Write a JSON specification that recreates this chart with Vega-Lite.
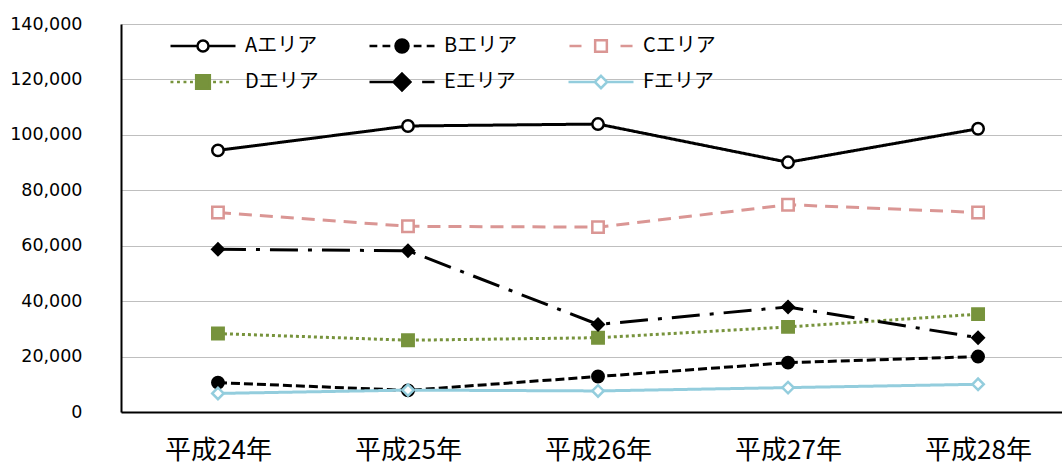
{
  "$schema": "https://vega.github.io/schema/vega-lite/v6.json",
  "autosize": "none",
  "width": 941,
  "height": 388,
  "padding": {"left": 121, "top": 24, "right": 0, "bottom": 52},
  "background": "white",
  "config": {
    "view": {"stroke": null},
    "axis": {"domainColor": "#000000", "domainWidth": 2, "ticks": false, "labelColor": "#000000", "title": null}
  },
  "data": {
    "values": [
      {"year": "平成24年", "area": "Aエリア", "value": 94400},
      {"year": "平成25年", "area": "Aエリア", "value": 103200},
      {"year": "平成26年", "area": "Aエリア", "value": 103900},
      {"year": "平成27年", "area": "Aエリア", "value": 90100},
      {"year": "平成28年", "area": "Aエリア", "value": 102200},
      {"year": "平成24年", "area": "Bエリア", "value": 10600},
      {"year": "平成25年", "area": "Bエリア", "value": 7800},
      {"year": "平成26年", "area": "Bエリア", "value": 12800},
      {"year": "平成27年", "area": "Bエリア", "value": 17800},
      {"year": "平成28年", "area": "Bエリア", "value": 20000},
      {"year": "平成24年", "area": "Cエリア", "value": 72000},
      {"year": "平成25年", "area": "Cエリア", "value": 67000},
      {"year": "平成26年", "area": "Cエリア", "value": 66700},
      {"year": "平成27年", "area": "Cエリア", "value": 74800},
      {"year": "平成28年", "area": "Cエリア", "value": 72000},
      {"year": "平成24年", "area": "Dエリア", "value": 28300},
      {"year": "平成25年", "area": "Dエリア", "value": 25900},
      {"year": "平成26年", "area": "Dエリア", "value": 26800},
      {"year": "平成27年", "area": "Dエリア", "value": 30700},
      {"year": "平成28年", "area": "Dエリア", "value": 35300},
      {"year": "平成24年", "area": "Eエリア", "value": 58700},
      {"year": "平成25年", "area": "Eエリア", "value": 58200},
      {"year": "平成26年", "area": "Eエリア", "value": 31600},
      {"year": "平成27年", "area": "Eエリア", "value": 37900},
      {"year": "平成28年", "area": "Eエリア", "value": 26800},
      {"year": "平成24年", "area": "Fエリア", "value": 6700},
      {"year": "平成25年", "area": "Fエリア", "value": 7900},
      {"year": "平成26年", "area": "Fエリア", "value": 7600},
      {"year": "平成27年", "area": "Fエリア", "value": 8800},
      {"year": "平成28年", "area": "Fエリア", "value": 10000}
    ]
  },
  "encoding": {
    "x": {
      "field": "year", "type": "ordinal",
      "scale": {"type": "point", "padding": 0.476, "align": 0.536},
      "axis": {"labelAngle": 0, "labelFont": "Noto Sans CJK JP", "labelFontSize": 26, "labelPadding": 25, "grid": false}
    },
    "y": {
      "field": "value", "type": "quantitative",
      "scale": {"domain": [0, 140000], "nice": false},
      "axis": {"values": [0, 20000, 40000, 60000, 80000, 100000, 120000, 140000], "format": ",d", "labelFont": "DejaVu Sans", "labelFontSize": 17.5, "labelPadding": 39, "grid": true, "gridColor": "#BFBFBF", "gridWidth": 1}
    }
  },
  "layer": [
    {
      "mark": {"type": "line", "strokeWidth": 3, "strokeCap": "butt", "strokeJoin": "round"},
      "encoding": {
        "stroke": {"field": "area", "type": "nominal", "legend": null,
          "scale": {"domain": ["Aエリア", "Bエリア", "Cエリア", "Dエリア", "Eエリア", "Fエリア"], "range": ["#000000", "#000000", "#DA9694", "#77933C", "#000000", "#93CDDD"]}},
        "strokeDash": {"field": "area", "type": "nominal", "legend": null,
          "scale": {"domain": ["Aエリア", "Bエリア", "Cエリア", "Dエリア", "Eエリア", "Fエリア"], "range": [[1, 0], [9, 4], [13, 8], [3, 3], [28, 10, 4, 10], [1, 0]]}}
      }
    },
    {
      "mark": {"type": "point", "size": 130, "strokeWidth": 2.5, "opacity": 1},
      "encoding": {
        "shape": {"field": "area", "type": "nominal", "legend": null,
          "scale": {"domain": ["Aエリア", "Bエリア", "Cエリア", "Dエリア", "Eエリア", "Fエリア"], "range": ["circle", "circle", "square", "square", "diamond", "diamond"]}},
        "fill": {"field": "area", "type": "nominal", "legend": null,
          "scale": {"domain": ["Aエリア", "Bエリア", "Cエリア", "Dエリア", "Eエリア", "Fエリア"], "range": ["#FFFFFF", "#000000", "#FFFFFF", "#77933C", "#000000", "#FFFFFF"]}},
        "stroke": {"field": "area", "type": "nominal", "legend": null,
          "scale": {"domain": ["Aエリア", "Bエリア", "Cエリア", "Dエリア", "Eエリア", "Fエリア"], "range": ["#000000", "#000000", "#DA9694", "#77933C", "#000000", "#93CDDD"]}}
      }
    },
    {
      "mark": {"type": "point", "size": 0, "strokeWidth": 2.5, "opacity": 1},
      "encoding": {
        "shape": {"field": "area", "type": "nominal",
          "scale": {"domain": ["Aエリア", "Bエリア", "Cエリア", "Dエリア", "Eエリア", "Fエリア"], "range": [
            "M -1 0 H -0.17 M 0.17 0 H 1 M -0.17 0 A 0.17 0.17 0 1 0 0.17 0 A 0.17 0.17 0 1 0 -0.17 0 Z",
            "M -1 0 H -0.76 M -0.6 0 H -0.36 M 0.36 0 H 0.6 M 0.76 0 H 1 M -0.2 0 A 0.2 0.2 0 1 0 0.2 0 A 0.2 0.2 0 1 0 -0.2 0 Z",
            "M -0.97 0 H -0.6 M 0.6 0 H 0.97 M -0.18 -0.18 H 0.18 V 0.18 H -0.18 Z",
            "M -1 0 H -0.91 M -0.8 0 H -0.71 M -0.6 0 H -0.51 M -0.4 0 H -0.31 M 0.31 0 H 0.4 M 0.51 0 H 0.6 M 0.71 0 H 0.8 M -0.21 -0.21 H 0.21 V 0.21 H -0.21 Z",
            "M -1 0 H -0.2 M 0.62 0 H 1 M 0 -0.26 L 0.26 0 L 0 0.26 L -0.26 0 Z",
            "M -1 0 H -0.19 M 0.19 0 H 1 M 0 -0.19 L 0.19 0 L 0 0.19 L -0.19 0 Z"
          ]},
          "legend": {"title": null, "orient": "none", "direction": "horizontal", "legendX": 48, "legendY": 10, "columns": 3, "columnPadding": 49, "rowPadding": 12, "clipHeight": 24, "symbolSize": 4225, "symbolStrokeWidth": 2.5, "symbolOpacity": 1, "labelFontSize": 20, "labelFont": "Noto Sans CJK JP", "labelColor": "#000000", "labelOffset": 8, "padding": 0}},
        "fill": {"field": "area", "type": "nominal",
          "scale": {"domain": ["Aエリア", "Bエリア", "Cエリア", "Dエリア", "Eエリア", "Fエリア"], "range": ["#FFFFFF", "#000000", "#FFFFFF", "#77933C", "#000000", "#FFFFFF"]},
          "legend": {"title": null, "orient": "none", "direction": "horizontal", "legendX": 48, "legendY": 10, "columns": 3, "columnPadding": 49, "rowPadding": 12, "clipHeight": 24, "symbolSize": 4225, "symbolStrokeWidth": 2.5, "symbolOpacity": 1, "labelFontSize": 20, "labelFont": "Noto Sans CJK JP", "labelColor": "#000000", "labelOffset": 8, "padding": 0}},
        "stroke": {"field": "area", "type": "nominal",
          "scale": {"domain": ["Aエリア", "Bエリア", "Cエリア", "Dエリア", "Eエリア", "Fエリア"], "range": ["#000000", "#000000", "#DA9694", "#77933C", "#000000", "#93CDDD"]},
          "legend": {"title": null, "orient": "none", "direction": "horizontal", "legendX": 48, "legendY": 10, "columns": 3, "columnPadding": 49, "rowPadding": 12, "clipHeight": 24, "symbolSize": 4225, "symbolStrokeWidth": 2.5, "symbolOpacity": 1, "labelFontSize": 20, "labelFont": "Noto Sans CJK JP", "labelColor": "#000000", "labelOffset": 8, "padding": 0}}
      }
    }
  ],
  "resolve": {
    "scale": {"shape": "independent", "fill": "independent", "stroke": "independent", "strokeDash": "independent"},
    "legend": {"shape": "independent", "fill": "independent", "stroke": "independent", "strokeDash": "independent"}
  }
}
